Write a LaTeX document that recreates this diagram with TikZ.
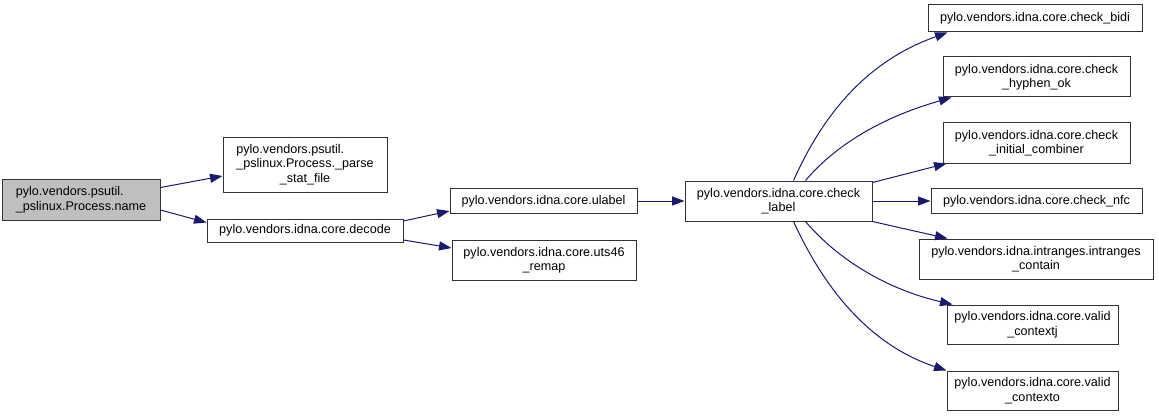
\documentclass[tikz,border=0pt]{standalone}
\usepackage{fontspec}
\setmainfont{Liberation Sans}
\usetikzlibrary{arrows.meta}
\definecolor{edgec}{HTML}{191970}
\definecolor{grayfill}{HTML}{BFBFBF}
\begin{document}
\begin{tikzpicture}[x=1pt,y=-1pt,
  box/.style={draw=black!80,line width=1pt,fill=white,inner sep=0pt,align=center,font=\fontsize{12.6}{14.5}\selectfont},
  edge/.style={draw=edgec,line width=1pt,-{Triangle[length=12.5pt,width=9pt]}}]
\useasboundingbox (0,0) rectangle (1159,417);
\node[box,fill=grayfill,minimum width=158pt,minimum height=41pt,align=left] (name) at (81,199.5) {pylo.vendors.psutil.\\\_pslinux.Process.name};
\node[box,minimum width=164pt,minimum height=54pt] (parse) at (305,165) {\begin{tabular}{@{}l@{}}pylo.vendors.psutil.\\\_pslinux.Process.\_parse\\\multicolumn{1}{@{}c@{}}{\_stat\_file}\end{tabular}};
\node[box,minimum width=196pt,minimum height=23pt] (decode) at (305,230.5) {pylo.vendors.idna.core.decode};
\node[box,minimum width=187pt,minimum height=25pt] (ulabel) at (543.5,201) {pylo.vendors.idna.core.ulabel};
\node[box,minimum width=184pt,minimum height=40pt] (uts) at (544,260) {pylo.vendors.idna.core.uts46\\\_remap};
\node[box,minimum width=187pt,minimum height=40pt] (cl) at (778.5,201) {pylo.vendors.idna.core.check\\\_label};
\node[box,minimum width=214pt,minimum height=27pt] (bidi) at (1035,18.5) {pylo.vendors.idna.core.check\_bidi};
\node[box,minimum width=187pt,minimum height=40pt] (hyph) at (1036.5,77) {pylo.vendors.idna.core.check\\\_hyphen\_ok};
\node[box,minimum width=187pt,minimum height=40pt] (init) at (1036.5,143) {pylo.vendors.idna.core.check\\\_initial\_combiner};
\node[box,minimum width=211pt,minimum height=25pt] (nfc) at (1036.5,201) {pylo.vendors.idna.core.check\_nfc};
\node[box,minimum width=234pt,minimum height=40pt] (intr) at (1036,259) {pylo.vendors.idna.intranges.intranges\\\_contain};
\node[box,minimum width=171pt,minimum height=39pt] (ctxj) at (1032.5,324.5) {pylo.vendors.idna.core.valid\\\_contextj};
\node[box,minimum width=171pt,minimum height=39pt] (ctxo) at (1032.5,390.5) {pylo.vendors.idna.core.valid\\\_contexto};

\draw[edge] ([yshift=12pt]name.east) -- ([yshift=-11pt]parse.west);
\draw[edge] ([yshift=-10.5pt]name.east) -- ([yshift=8pt]decode.west);
\draw[edge] ([yshift=9.5pt]decode.east) -- ([yshift=-10pt]ulabel.west);
\draw[edge] ([yshift=-9.5pt]decode.east) -- ([yshift=12pt]uts.west);
\draw[edge] (ulabel.east) -- (cl.west);
\draw[edge] (cl.east) -- (nfc.west);
\draw[edge] ([yshift=-2pt]cl.north east) -- ([xshift=4pt]init.south west);
\draw[edge] (cl.south east) -- ([xshift=29pt]intr.north west);
\draw[edge] ([xshift=15pt]cl.north) .. controls (825,110) and (870,60) .. ([xshift=20pt]bidi.south west);
\draw[edge] ([xshift=27pt]cl.north) .. controls (840,140) and (890,115) .. ([xshift=9pt]hyph.south west);
\draw[edge] ([xshift=27pt]cl.south) .. controls (840,262) and (890,290) .. ([xshift=6pt]ctxj.north west);
\draw[edge] ([xshift=15pt]cl.south) .. controls (825,290) and (870,345) .. ([xshift=0pt]ctxo.north west);
\end{tikzpicture}
\end{document}
